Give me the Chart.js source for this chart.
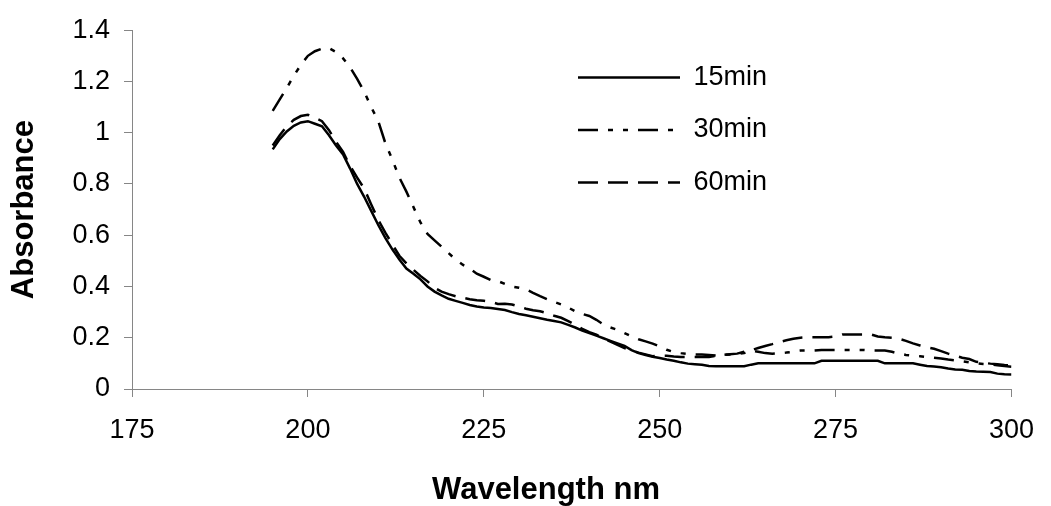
<!DOCTYPE html>
<html>
<head>
<meta charset="utf-8">
<script src="https://cdn.jsdelivr.net/npm/chart.js"></script>
<style>
html, body { margin: 0; padding: 0; background: #fff; }
#wrap { width: 1051px; height: 506px; }
</style>
</head>
<body>
<div id="wrap"><canvas id="myChart"></canvas></div>
<script>
// wavelength (nm)
var wavelengths = [195, 196, 197, 198, 199, 200, 201, 202, 203, 204, 205, 206, 207, 208, 209,
    210, 211, 212, 213, 214, 215, 216, 217, 218, 219, 220, 221, 222, 223, 224,
    225, 226, 227, 228, 229, 230, 231, 232, 233, 234, 235, 236, 237, 238, 239,
    240, 241, 242, 243, 244, 245, 246, 247, 248, 249, 250, 251, 252, 253, 254,
    255, 256, 257, 258, 259, 260, 261, 262, 263, 264, 265, 266, 267, 268, 269,
    270, 271, 272, 273, 274, 275, 276, 277, 278, 279, 280, 281, 282, 283, 284,
    285, 286, 287, 288, 289, 290, 291, 292, 293, 294, 295, 296, 297, 298, 299, 300];

var abs15 = [0.935, 0.975, 1.005, 1.027, 1.040, 1.045, 1.035, 1.025, 0.990, 0.950, 0.915, 0.860, 0.800, 0.750, 0.695,
    0.640, 0.590, 0.545, 0.505, 0.470, 0.450, 0.428, 0.400, 0.380, 0.365, 0.352, 0.344, 0.336, 0.328, 0.322,
    0.318, 0.316, 0.312, 0.308, 0.300, 0.293, 0.288, 0.282, 0.276, 0.270, 0.265, 0.260, 0.250, 0.240, 0.228,
    0.218, 0.208, 0.198, 0.188, 0.178, 0.168, 0.152, 0.140, 0.133, 0.126, 0.121, 0.115, 0.110, 0.104, 0.099,
    0.097, 0.095, 0.090, 0.089, 0.089, 0.089, 0.089, 0.089, 0.095, 0.100, 0.100, 0.100, 0.100, 0.100, 0.100,
    0.100, 0.100, 0.100, 0.110, 0.110, 0.110, 0.110, 0.110, 0.110, 0.110, 0.110, 0.110, 0.100, 0.100, 0.100,
    0.100, 0.100, 0.095, 0.090, 0.088, 0.085, 0.080, 0.076, 0.075, 0.070, 0.068, 0.067, 0.066, 0.060, 0.058, 0.057];

var abs30 = [1.085, 1.130, 1.175, 1.222, 1.265, 1.300, 1.318, 1.328, 1.330, 1.315, 1.290, 1.255, 1.210, 1.160, 1.100,
    1.045, 0.960, 0.895, 0.825, 0.770, 0.710, 0.650, 0.605, 0.580, 0.555, 0.530, 0.505, 0.485, 0.470, 0.450,
    0.438, 0.425, 0.421, 0.410, 0.400, 0.395, 0.389, 0.375, 0.362, 0.350, 0.340, 0.330, 0.318, 0.303, 0.293,
    0.285, 0.270, 0.252, 0.240, 0.231, 0.218, 0.205, 0.194, 0.186, 0.177, 0.166, 0.153, 0.144, 0.140, 0.137,
    0.135, 0.135, 0.133, 0.131, 0.133, 0.135, 0.137, 0.140, 0.150, 0.145, 0.140, 0.138, 0.140, 0.142, 0.145,
    0.150, 0.150, 0.150, 0.152, 0.152, 0.152, 0.152, 0.152, 0.152, 0.152, 0.150, 0.150, 0.150, 0.145, 0.138,
    0.133, 0.130, 0.128, 0.125, 0.122, 0.119, 0.115, 0.112, 0.108, 0.104, 0.100, 0.098, 0.096, 0.093, 0.090, 0.087];

var abs60 = [0.950, 0.990, 1.025, 1.050, 1.065, 1.070, 1.058, 1.045, 1.010, 0.965, 0.925, 0.870, 0.825, 0.782, 0.720,
    0.660, 0.610, 0.565, 0.520, 0.490, 0.465, 0.441, 0.420, 0.395, 0.380, 0.370, 0.362, 0.356, 0.350, 0.346,
    0.344, 0.340, 0.332, 0.333, 0.330, 0.322, 0.313, 0.307, 0.303, 0.296, 0.286, 0.278, 0.265, 0.250, 0.235,
    0.222, 0.212, 0.198, 0.185, 0.172, 0.160, 0.150, 0.142, 0.135, 0.128, 0.130, 0.130, 0.127, 0.125, 0.125,
    0.125, 0.125, 0.125, 0.130, 0.133, 0.136, 0.138, 0.145, 0.151, 0.160, 0.168, 0.175, 0.183, 0.190, 0.196,
    0.200, 0.202, 0.202, 0.202, 0.202, 0.205, 0.213, 0.213, 0.213, 0.213, 0.213, 0.205, 0.202, 0.200, 0.196,
    0.188, 0.178, 0.170, 0.163, 0.157, 0.148, 0.138, 0.130, 0.122, 0.117, 0.106, 0.102, 0.099, 0.097, 0.094, 0.092];

var seriesNames = ['15min', '30min', '60min'];
var xTicks = [175, 200, 225, 250, 275, 300];
var yTicks = [0, 0.2, 0.4, 0.6, 0.8, 1, 1.2, 1.4];
var xTitleText = 'Wavelength nm';

function toPoints(ys) {
    var out = [];
    for (var i = 0; i < wavelengths.length; i++) {
        out.push({ x: wavelengths[i], y: ys[i] });
    }
    return out;
}

var fontFam = '"Liberation Sans", Arial, sans-serif';
var axisGray = '#868686';

// legend sits inside the plot, top right like the original
var legendSpot = {
    id: 'legendSpot',
    afterLayout: function (chart) {
        var lg = chart.legend;
        var pad = lg.options.labels.padding;
        lg.left = 578 - pad;
        lg.top = 64 - pad;
        lg.right = lg.left + lg.width;
        lg.bottom = lg.top + lg.height;
    }
};

// x axis title is a bit left of the plot centre in the original
var xTitle = {
    id: 'xTitle',
    afterDraw: function (chart) {
        var ctx = chart.ctx;
        ctx.save();
        ctx.font = 'bold 31px ' + fontFam;
        ctx.fillStyle = '#000';
        ctx.textAlign = 'center';
        ctx.textBaseline = 'middle';
        ctx.fillText(xTitleText, 546, 490);
        ctx.restore();
    }
};

new Chart('myChart', {
    type: 'line',
    data: {
        datasets: [{
            label: seriesNames[0],
            data: toPoints(abs15),
            borderColor: '#000',
            borderWidth: 2.5,
            borderDash: [],
            pointRadius: 0,
            fill: false
        }, {
            label: seriesNames[1],
            data: toPoints(abs30),
            borderColor: '#000',
            borderWidth: 2.5,
            borderDash: [20, 10, 5, 10, 5, 10],
            pointRadius: 0,
            fill: false
        }, {
            label: seriesNames[2],
            data: toPoints(abs60),
            borderColor: '#000',
            borderWidth: 2.5,
            borderDash: [20, 10],
            pointRadius: 0,
            fill: false
        }]
    },
    options: {
        responsive: true,
        maintainAspectRatio: false,
        animation: false,
        layout: { padding: { left: 0, right: 27, top: 27, bottom: 0 } },
        plugins: {
            legend: {
                position: 'chartArea',
                align: 'start',
                labels: {
                    usePointStyle: true,
                    pointStyle: 'line',
                    pointStyleWidth: 102,
                    padding: 25.5,
                    color: '#000',
                    font: { family: fontFam, size: 27 },
                    generateLabels: function (chart) {
                        var items = Chart.defaults.plugins.legend.labels.generateLabels(chart);
                        items.forEach(function (it) {
                            var ds = chart.data.datasets[it.datasetIndex];
                            it.lineDash = ds.borderDash;
                            it.lineWidth = ds.borderWidth;
                            it.strokeStyle = '#000';
                        });
                        return items;
                    }
                }
            },
            tooltip: { enabled: false }
        },
        scales: {
            x: {
                type: 'linear',
                min: 175,
                max: 300,
                afterFit: function (s) { s.height = 117; },
                afterBuildTicks: function (s) { s.ticks = xTicks.map(function (v) { return { value: v }; }); },
                ticks: { color: '#000', padding: 17, font: { family: fontFam, size: 27 } },
                grid: { display: true, drawOnChartArea: false, drawTicks: true, tickLength: 8, color: axisGray },
                border: { display: true, color: axisGray, width: 1 }
            },
            y: {
                min: 0,
                max: 1.4,
                afterFit: function (s) { s.width = 132; },
                afterBuildTicks: function (s) { s.ticks = yTicks.map(function (v) { return { value: v }; }); },
                ticks: {
                    color: '#000',
                    padding: 14,
                    font: { family: fontFam, size: 27 },
                    callback: function (v) { return String(Math.round(v * 10) / 10); }
                },
                grid: { display: true, drawOnChartArea: false, drawTicks: true, tickLength: 8, color: axisGray },
                border: { display: true, color: axisGray, width: 1 },
                title: {
                    display: true,
                    text: 'Absorbance',
                    color: '#000',
                    padding: { top: 6, bottom: 0 },
                    font: { family: fontFam, size: 31, weight: 'bold' }
                }
            }
        }
    },
    plugins: [legendSpot, xTitle]
});
</script>
</body>
</html>
